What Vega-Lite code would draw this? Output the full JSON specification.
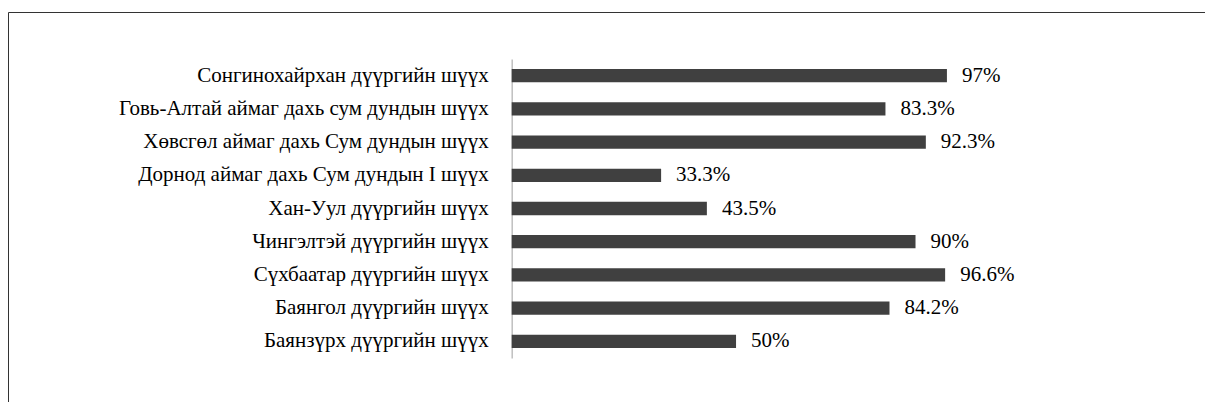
{
  "$schema": "https://vega.github.io/schema/vega-lite/v6.json",
  "width": 1205,
  "height": 394,
  "autosize": {"type": "none"},
  "padding": {"left": 8, "top": 12, "right": 0, "bottom": 0},
  "background": "white",
  "config": {
    "view": {"stroke": "#333333", "strokeWidth": 1},
    "font": "Liberation Serif"
  },
  "data": {
    "values": [
      {"name": "Сонгинохайрхан дүүргийн шүүх", "value": 0.97},
      {"name": "Говь-Алтай аймаг дахь сум дундын шүүх", "value": 0.833},
      {"name": "Хөвсгөл аймаг дахь Сум дундын шүүх", "value": 0.923},
      {"name": "Дорнод аймаг дахь Сум дундын I шүүх", "value": 0.333},
      {"name": "Хан-Уул дүүргийн шүүх", "value": 0.435},
      {"name": "Чингэлтэй дүүргийн шүүх", "value": 0.90},
      {"name": "Сүхбаатар дүүргийн шүүх", "value": 0.966},
      {"name": "Баянгол дүүргийн шүүх", "value": 0.842},
      {"name": "Баянзүрх дүүргийн шүүх", "value": 0.50}
    ]
  },
  "encoding": {
    "y": {
      "field": "name",
      "type": "nominal",
      "sort": null,
      "scale": {"range": [47, 346], "paddingInner": 0.6, "paddingOuter": 0.3},
      "axis": {
        "orient": "left",
        "offset": -503.7,
        "title": null,
        "domainColor": "#bfbfbf",
        "domainWidth": 1.5,
        "ticks": false,
        "labelPadding": 23.5,
        "labelFont": "Liberation Serif",
        "labelFontSize": 21,
        "labelColor": "#000000",
        "labelLimit": 0
      }
    },
    "x": {
      "field": "value",
      "type": "quantitative",
      "scale": {"domain": [-1.1226, 1.563], "nice": false},
      "axis": null
    }
  },
  "layer": [
    {"mark": {"type": "bar", "color": "#404040"}},
    {
      "mark": {"type": "text", "align": "left", "baseline": "middle", "dx": 15, "fontSize": 21, "font": "Liberation Serif", "color": "#000000"},
      "encoding": {"text": {"field": "value", "type": "quantitative", "format": ".1~%"}}
    }
  ]
}
